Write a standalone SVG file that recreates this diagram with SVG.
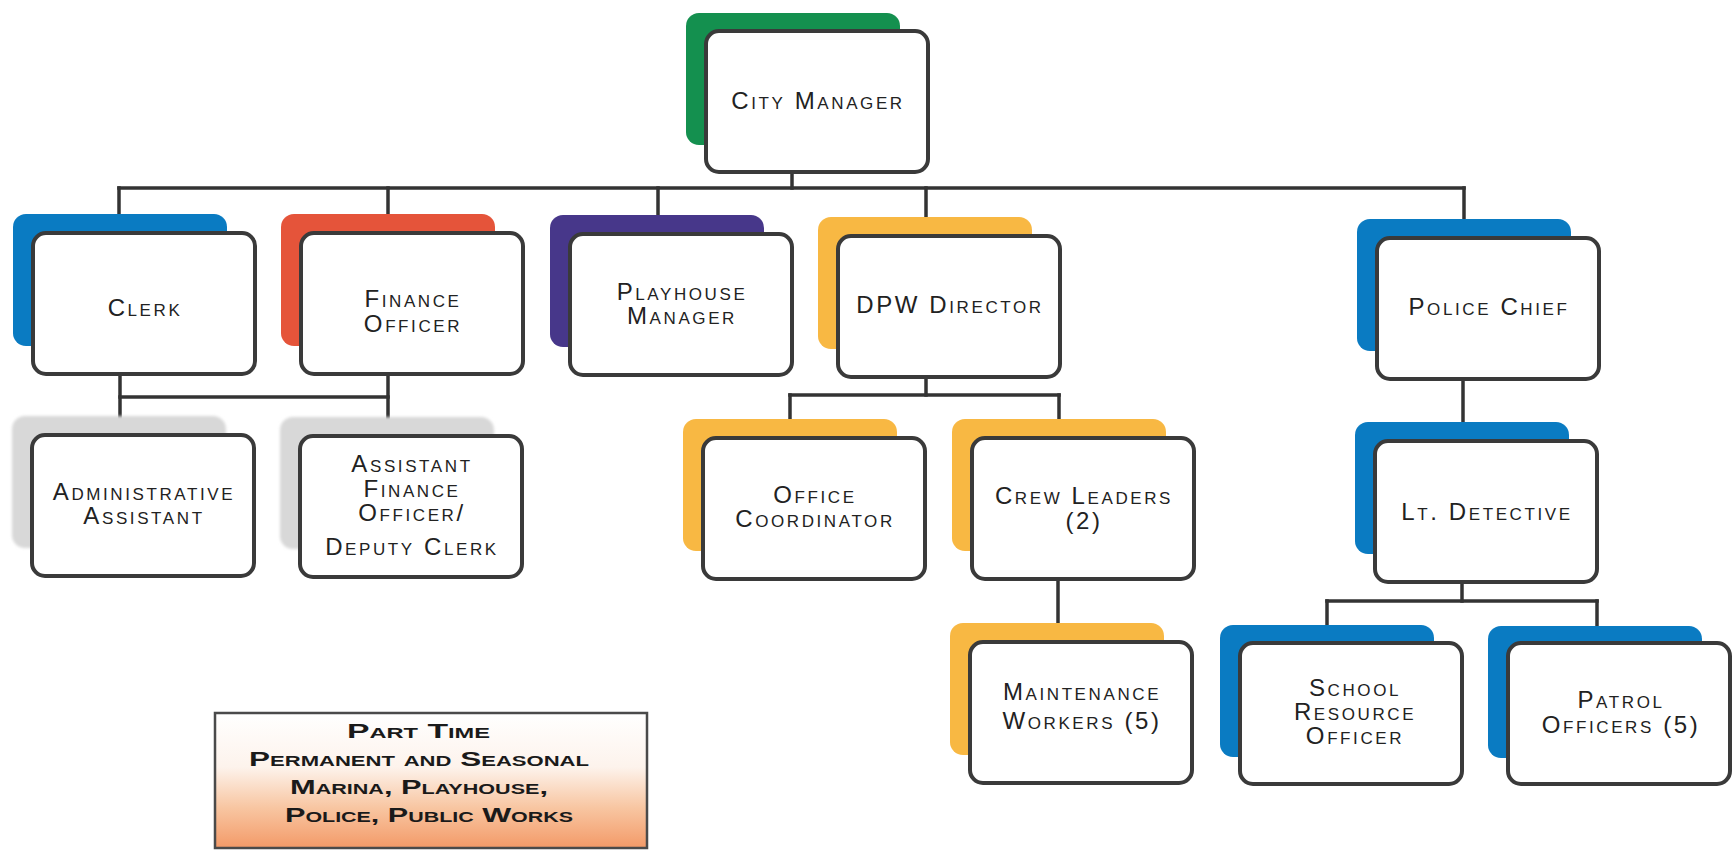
<svg xmlns="http://www.w3.org/2000/svg" width="1732" height="850" viewBox="0 0 1732 850">
<defs>
<style>
.front{fill:#ffffff;stroke:#3a3a3a;stroke-width:4}
.back{stroke:none}
.green{fill:#14904f}
.blue{fill:#0a7bc2}
.red{fill:#e5543a}
.purple{fill:#47378a}
.yellow{fill:#f8b843}
.grey{fill:#d8d8d8}
.t{font-family:"Liberation Sans",Arial,sans-serif;font-size:24px;font-variant:small-caps;letter-spacing:2.6px;text-anchor:middle;fill:#222222}
.lg{font-family:"Liberation Sans",Arial,sans-serif;font-size:20px;font-weight:bold;font-variant:small-caps;fill:#1a1a1a}
.conn line{stroke:#333333;stroke-width:3.5;stroke-linecap:square}
</style>
<filter id="soft" x="-10%" y="-10%" width="120%" height="120%"><feGaussianBlur stdDeviation="1.5"/></filter>
<linearGradient id="lgGrad" x1="0" y1="0" x2="0" y2="1">
<stop offset="0" stop-color="#ffffff"/>
<stop offset="0.4" stop-color="#fdf3ec"/>
<stop offset="0.7" stop-color="#f8c6a2"/>
<stop offset="1" stop-color="#f39a68"/>
</linearGradient>
</defs>
<rect x="0" y="0" width="1732" height="850" fill="#ffffff"/>

<g id="connectors" class="conn">
<line x1="792" y1="172" x2="792" y2="188"/>
<line x1="119" y1="188" x2="1464" y2="188"/>
<line x1="119" y1="188" x2="119" y2="222"/>
<line x1="388" y1="188" x2="388" y2="222"/>
<line x1="658" y1="188" x2="658" y2="222"/>
<line x1="926" y1="188" x2="926" y2="222"/>
<line x1="1464" y1="188" x2="1464" y2="224"/>
<line x1="120" y1="374" x2="120" y2="424"/>
<line x1="388" y1="374" x2="388" y2="424"/>
<line x1="120" y1="397" x2="388" y2="397"/>
<line x1="926" y1="377" x2="926" y2="395"/>
<line x1="790" y1="395" x2="1059" y2="395"/>
<line x1="790" y1="395" x2="790" y2="426"/>
<line x1="1059" y1="395" x2="1059" y2="426"/>
<line x1="1058" y1="579" x2="1058" y2="630"/>
<line x1="1463" y1="379" x2="1463" y2="428"/>
<line x1="1462" y1="582" x2="1462" y2="601"/>
<line x1="1327" y1="601" x2="1597" y2="601"/>
<line x1="1327" y1="601" x2="1327" y2="632"/>
<line x1="1597" y1="601" x2="1597" y2="634"/>
</g>

<g id="city-manager">
<rect class="back green" x="686" y="13" width="214" height="132" rx="13"/>
<rect class="front" x="706" y="31" width="222" height="141" rx="13"/>
<text class="t" x="818" y="109">City Manager</text>
</g>

<g id="clerk">
<rect class="back blue" x="13" y="214" width="214" height="132" rx="13"/>
<rect class="front" x="33" y="233" width="222" height="141" rx="13"/>
<text class="t" x="145" y="316">Clerk</text>
</g>

<g id="finance-officer">
<rect class="back red" x="281" y="214" width="214" height="132" rx="13"/>
<rect class="front" x="301" y="233" width="222" height="141" rx="13"/>
<text class="t" x="413" y="307">Finance<tspan x="413" dy="25">Officer</tspan></text>
</g>

<g id="playhouse-manager">
<rect class="back purple" x="550" y="215" width="214" height="132" rx="13"/>
<rect class="front" x="570" y="234" width="222" height="141" rx="13"/>
<text class="t" x="682" y="300">Playhouse<tspan x="682" dy="24">Manager</tspan></text>
</g>

<g id="dpw-director">
<rect class="back yellow" x="818" y="217" width="214" height="132" rx="13"/>
<rect class="front" x="838" y="236" width="222" height="141" rx="13"/>
<text class="t" x="950" y="313">DPW Director</text>
</g>

<g id="police-chief">
<rect class="back blue" x="1357" y="219" width="214" height="132" rx="13"/>
<rect class="front" x="1377" y="238" width="222" height="141" rx="13"/>
<text class="t" x="1489" y="315">Police Chief</text>
</g>

<g id="administrative-assistant">
<rect class="back grey" x="12" y="416" width="214" height="132" rx="13" filter="url(#soft)"/>
<rect class="front" x="32" y="435" width="222" height="141" rx="13"/>
<text class="t" x="144" y="500">Administrative<tspan x="144" dy="24">Assistant</tspan></text>
</g>

<g id="assistant-finance-officer">
<rect class="back grey" x="280" y="417" width="214" height="132" rx="13" filter="url(#soft)"/>
<rect class="front" x="300" y="436" width="222" height="141" rx="13"/>
<text class="t" x="412" y="472">Assistant<tspan x="412" dy="25">Finance</tspan><tspan x="412" dy="24">Officer/</tspan><tspan x="412" dy="34">Deputy Clerk</tspan></text>
</g>

<g id="office-coordinator">
<rect class="back yellow" x="683" y="419" width="214" height="132" rx="13"/>
<rect class="front" x="703" y="438" width="222" height="141" rx="13"/>
<text class="t" x="815" y="503">Office<tspan x="815" dy="24">Coordinator</tspan></text>
</g>

<g id="crew-leaders">
<rect class="back yellow" x="952" y="419" width="214" height="132" rx="13"/>
<rect class="front" x="972" y="438" width="222" height="141" rx="13"/>
<text class="t" x="1084" y="504">Crew Leaders<tspan x="1084" dy="25">(2)</tspan></text>
</g>

<g id="maintenance-workers">
<rect class="back yellow" x="950" y="623" width="214" height="132" rx="13"/>
<rect class="front" x="970" y="642" width="222" height="141" rx="13"/>
<text class="t" x="1082" y="700">Maintenance<tspan x="1082" dy="29">Workers (5)</tspan></text>
</g>

<g id="lt-detective">
<rect class="back blue" x="1355" y="422" width="214" height="132" rx="13"/>
<rect class="front" x="1375" y="441" width="222" height="141" rx="13"/>
<text class="t" x="1487" y="520">Lt. Detective</text>
</g>

<g id="school-resource-officer">
<rect class="back blue" x="1220" y="625" width="214" height="132" rx="13"/>
<rect class="front" x="1240" y="643" width="222" height="141" rx="13"/>
<text class="t" x="1355" y="696">School<tspan x="1355" dy="24">Resource</tspan><tspan x="1355" dy="24">Officer</tspan></text>
</g>

<g id="patrol-officers">
<rect class="back blue" x="1488" y="626" width="214" height="132" rx="13"/>
<rect class="front" x="1508" y="643" width="222" height="141" rx="13"/>
<text class="t" x="1621" y="708">Patrol<tspan x="1621" dy="25">Officers (5)</tspan></text>
</g>

<g id="legend">
<rect x="215" y="713" width="432" height="135" fill="url(#lgGrad)" stroke="#4a4a4a" stroke-width="2.5"/>
<text class="lg" x="347" y="738" textLength="143" lengthAdjust="spacingAndGlyphs">Part Time</text>
<text class="lg" x="249" y="766" textLength="340" lengthAdjust="spacingAndGlyphs">Permanent and Seasonal</text>
<text class="lg" x="290" y="794" textLength="258" lengthAdjust="spacingAndGlyphs">Marina, Playhouse,</text>
<text class="lg" x="285" y="822" textLength="288" lengthAdjust="spacingAndGlyphs">Police, Public Works</text>
</g>
</svg>
